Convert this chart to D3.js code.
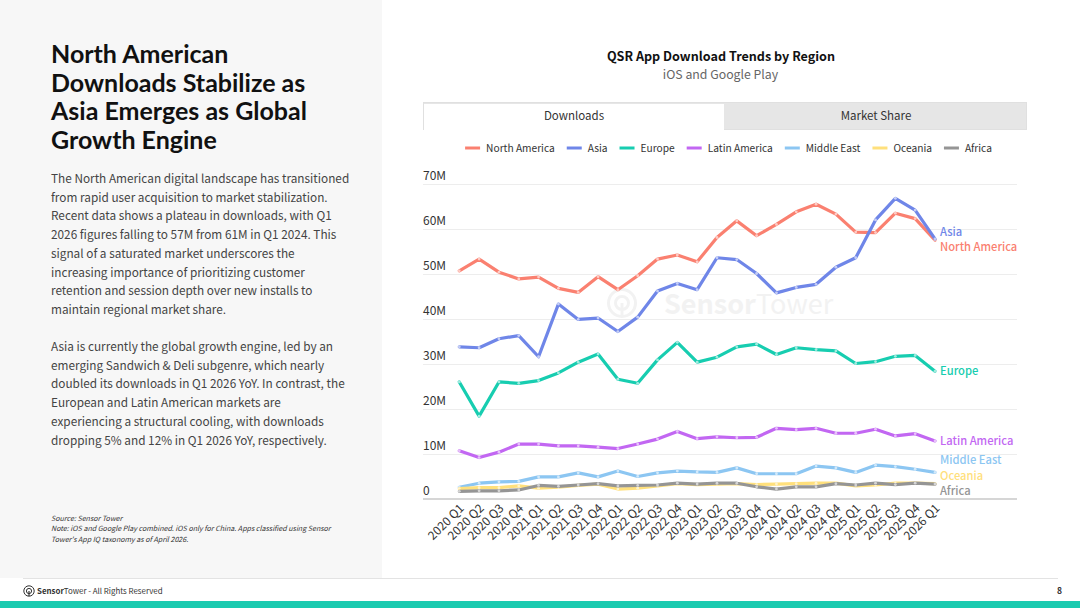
<!DOCTYPE html>
<html><head><meta charset="utf-8">
<script src="https://cdn.jsdelivr.net/npm/d3@7"></script>
<style>
html,body{margin:0;padding:0;background:#fff;}
svg{display:block;font-family:"Noto Sans CJK SC","Noto Sans",sans-serif;}
</style></head>
<body>
<svg id="c" width="1080" height="608"></svg>
<script>
// ---------- DATA ----------
const quarters = ["2020 Q1","2020 Q2","2020 Q3","2020 Q4","2021 Q1","2021 Q2","2021 Q3","2021 Q4",
  "2022 Q1","2022 Q2","2022 Q3","2022 Q4","2023 Q1","2023 Q2","2023 Q3","2023 Q4",
  "2024 Q1","2024 Q2","2024 Q3","2024 Q4","2025 Q1","2025 Q2","2025 Q3","2025 Q4","2026 Q1"];
const seriesNames = ["North America","Asia","Europe","Latin America","Middle East","Oceania","Africa"];
const seriesColors = ["#FA8070","#6F86E8","#17CDB0","#C267F2","#8CC6F2","#FFE07C","#959595"];
const northAmerica = [50.6,53.2,50.3,48.8,49.2,46.7,45.8,49.3,46.4,49.5,53.2,54.1,52.6,58.0,61.7,58.4,60.9,63.7,65.4,63.2,59.2,59.1,63.4,62.2,57.4];
const asia = [33.7,33.5,35.5,36.2,31.5,43.2,39.8,40.1,37.1,40.3,46.1,47.8,46.4,53.5,53.1,50.0,45.7,46.9,47.6,51.4,53.5,61.9,66.7,64.1,57.7];
const europe = [25.9,18.3,25.9,25.6,26.2,27.9,30.3,32.1,26.5,25.6,30.8,34.7,30.3,31.4,33.7,34.3,32.0,33.5,33.1,32.8,30.0,30.4,31.6,31.8,28.3];
const latinAmerica = [10.6,9.1,10.3,12.1,12.1,11.7,11.7,11.4,11.1,12.1,13.2,14.9,13.3,13.7,13.5,13.6,15.6,15.3,15.6,14.5,14.5,15.4,13.9,14.4,12.8];
const middleEast = [2.5,3.4,3.7,3.8,4.8,4.8,5.7,4.8,6.1,4.9,5.7,6.1,5.9,5.8,6.8,5.5,5.5,5.5,7.2,6.8,5.8,7.4,7.1,6.5,5.8];
const oceania = [2.2,2.4,2.4,2.8,2.3,2.5,2.9,3.2,2.1,2.3,2.8,3.3,3.1,3.2,3.3,3.1,3.2,3.3,3.4,3.4,2.8,3.0,3.4,3.4,3.3];
const africa = [1.6,1.7,1.7,1.9,2.9,2.7,3.0,3.3,2.8,2.9,3.0,3.4,3.2,3.4,3.4,2.6,2.1,2.6,2.6,3.3,3.0,3.4,3.1,3.4,3.2];
const seriesValues = [northAmerica,asia,europe,latinAmerica,middleEast,oceania,africa];
const yTicks = [0,10,20,30,40,50,60,70];
const yTickLabels = ["0","10M","20M","30M","40M","50M","60M","70M"];

const headline = ["North American","Downloads Stabilize as","Asia Emerges as Global","Growth Engine"];
const para1 = ["The North American digital landscape has transitioned","from rapid user acquisition to market stabilization.",
  "Recent data shows a plateau in downloads, with Q1","2026 figures falling to 57M from 61M in Q1 2024. This",
  "signal of a saturated market underscores the","increasing importance of prioritizing customer",
  "retention and session depth over new installs to","maintain regional market share."];
const para2 = ["Asia is currently the global growth engine, led by an","emerging Sandwich & Deli subgenre, which nearly",
  "doubled its downloads in Q1 2026 YoY. In contrast, the","European and Latin American markets are",
  "experiencing a structural cooling, with downloads","dropping 5% and 12% in Q1 2026 YoY, respectively."];
const notes = ["Source: Sensor Tower","Note: iOS and Google Play combined. iOS only for China. Apps classified using Sensor","Tower's App IQ taxonomy as of April 2026."];

// ---------- DRAW ----------
const svg = d3.select("#c");
// left panel
svg.append("rect").attr("x",0).attr("y",0).attr("width",382).attr("height",578).attr("fill","#F7F7F7");
// headline: separate text per line (compact-metric font), sized to the reference width
const hl = headline.map((l,i)=>svg.append("text").attr("x",51).attr("y",63+i*28.7)
  .attr("font-family","Lato, sans-serif").attr("font-size",23).attr("font-weight",700).attr("fill","#111").text(l));
const hw = d3.max(hl,t=>t.node().getComputedTextLength());
const hfs = 23*256/hw;
hl.forEach(t=>t.attr("font-size",hfs));
const p1 = svg.append("text").attr("font-size",11.8).attr("fill","#444");
para1.forEach((l,i)=>p1.append("tspan").attr("x",51).attr("y",183+i*18.7).text(l));
const p2 = svg.append("text").attr("font-size",11.8).attr("fill","#444");
para2.forEach((l,i)=>p2.append("tspan").attr("x",51).attr("y",351+i*18.7).text(l));
const nt = svg.append("text").attr("font-size",7.1).attr("font-style","italic").attr("fill","#333");
notes.forEach((l,i)=>nt.append("tspan").attr("x",51).attr("y",520.5+i*10.5).text(l));

// footer
svg.append("line").attr("x1",23).attr("x2",1058).attr("y1",578.5).attr("y2",578.5).attr("stroke","#e3e3e3");
svg.append("rect").attr("x",0).attr("y",601).attr("width",1080).attr("height",7).attr("fill","#1BCBB0");
const lg = svg.append("g").attr("transform","translate(29,591)");
lg.append("circle").attr("r",5.2).attr("fill","none").attr("stroke","#333").attr("stroke-width",1);
lg.append("circle").attr("r",2.6).attr("fill","none").attr("stroke","#333").attr("stroke-width",1);
lg.append("line").attr("y1",0).attr("y2",5).attr("stroke","#333").attr("stroke-width",1.2);
const ft = svg.append("text").attr("x",37).attr("y",594).attr("font-size",7.9).attr("fill","#333");
ft.append("tspan").attr("font-weight",700).text("Sensor");
ft.append("tspan").text("Tower - All Rights Reserved");
svg.append("text").attr("x",1062).attr("y",594).attr("text-anchor","end").attr("font-size",8.5).attr("font-weight",700).attr("fill","#333").text("8");

// chart title
svg.append("text").attr("x",721).attr("y",61).attr("text-anchor","middle").attr("font-size",12.6).attr("font-weight",700).attr("fill","#111").text("QSR App Download Trends by Region");
svg.append("text").attr("x",720.5).attr("y",79).attr("text-anchor","middle").attr("font-size",12.3).attr("fill","#666").text("iOS and Google Play");

// tabs
svg.append("rect").attr("x",423.5).attr("y",102.5).attr("width",603).attr("height",27).attr("fill","#E6E6E6").attr("stroke","#e0e0e0");
svg.append("rect").attr("x",424).attr("y",104).attr("width",300).attr("height",26).attr("fill","#fff");
svg.append("text").attr("x",574).attr("y",120).attr("text-anchor","middle").attr("font-size",11.5).attr("fill","#333").text("Downloads");
svg.append("text").attr("x",876).attr("y",120).attr("text-anchor","middle").attr("font-size",11.5).attr("fill","#333").text("Market Share");

// legend: laid out from measured text widths, centred
const leg = svg.append("g");
const items = seriesNames.map((n,i)=>{
  const g = leg.append("g");
  g.append("line").attr("x1",0).attr("x2",15).attr("y1",148).attr("y2",148).attr("stroke",seriesColors[i]).attr("stroke-width",3);
  const t = g.append("text").attr("x",21).attr("y",151.8).attr("font-size",10.2).attr("fill","#333").text(n);
  return {g,w:21+t.node().getComputedTextLength()};
});
const legGap = 12;
const legTotal = d3.sum(items,d=>d.w)+legGap*(items.length-1);
let lx = 728.5-legTotal/2;
items.forEach(it=>{it.g.attr("transform",`translate(${lx},0)`); lx+=it.w+legGap;});

// scales
const x = d3.scalePoint().domain(quarters).range([459.3,935]);
const y = d3.scaleLinear().domain([0,70]).range([498.5,183.5]);

// watermark
const wm = svg.append("g");
wm.append("circle").attr("cx",622).attr("cy",303).attr("r",13.5).attr("fill","none").attr("stroke","#F2F2F2").attr("stroke-width",3);
wm.append("circle").attr("cx",622).attr("cy",303).attr("r",6.5).attr("fill","none").attr("stroke","#F2F2F2").attr("stroke-width",3);
wm.append("line").attr("x1",622).attr("x2",622).attr("y1",303).attr("y2",317).attr("stroke","#F2F2F2").attr("stroke-width",3);
const wt = wm.append("text").attr("x",664).attr("y",314).attr("font-size",27).attr("fill","#F2F2F2");
wt.append("tspan").attr("font-weight",700).text("Sensor");
wt.append("tspan").text("Tower");

// gridlines
const grid = svg.append("g");
yTicks.forEach((t,i)=>{
  if(t>0) grid.append("line").attr("x1",423).attr("x2",1017).attr("y1",Math.round(y(t))+0.5).attr("y2",Math.round(y(t))+0.5).attr("stroke","#EDEDED");
  grid.append("text").attr("x",423).attr("y",y(t)-4).attr("font-size",12).attr("fill","#333").text(yTickLabels[i]);
});
svg.append("line").attr("x1",423).attr("x2",1017).attr("y1",499).attr("y2",499).attr("stroke","#C8C8C8").attr("stroke-width",1.5);

// x axis
const xa = svg.append("g").attr("transform","translate(0,500)").call(d3.axisBottom(x).tickSize(0).tickPadding(0));
xa.select(".domain").remove();
xa.selectAll("text").attr("font-family",'"Noto Sans CJK SC","Noto Sans",sans-serif').attr("font-size",12).attr("fill","#333")
  .attr("text-anchor","end").attr("dy",0).attr("transform","translate(5,9) rotate(-45)");

// lines
const line = d3.line().x((d,i)=>x(quarters[i])).y(d=>y(d));
const lines = svg.append("g");
seriesValues.forEach((vals,si)=>{
  const g = lines.append("g");
  g.append("path").attr("d",line(vals)).attr("fill","none").attr("stroke",seriesColors[si]).attr("stroke-width",3.2)
    .attr("stroke-linejoin","round").attr("stroke-linecap","round");
  g.selectAll("circle").data(vals).join("circle").attr("cx",(d,i)=>x(quarters[i])).attr("cy",d=>y(d)).attr("r",1.4)
    .attr("fill","#fff").attr("opacity",0.6);
});

// end labels with dodge
const lab = seriesNames.map((n,i)=>({n,c:seriesColors[i],y:y(seriesValues[i][seriesValues[i].length-1])}));
lab.sort((a,b)=>a.y-b.y);
const gap=15.5, maxY=491;
for(let it=0;it<50;it++){
  for(let i=1;i<lab.length;i++){
    const ov = gap-(lab[i].y-lab[i-1].y);
    if(ov>0){lab[i].y+=ov/2; lab[i-1].y-=ov/2;}
  }
  if(lab[lab.length-1].y>maxY){const d=lab[lab.length-1].y-maxY; lab[lab.length-1].y-=d;}
}
lab.forEach(l=>{
  svg.append("text").attr("x",940).attr("y",l.y+4).attr("font-size",11.2).attr("font-weight",500).attr("fill",l.c).text(l.n);
});
</script>
</body></html>
